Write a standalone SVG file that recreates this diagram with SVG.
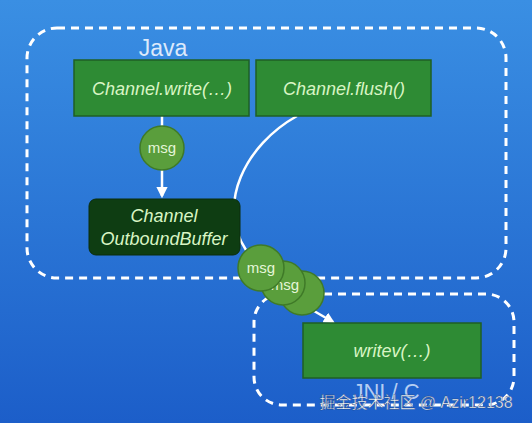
<svg xmlns="http://www.w3.org/2000/svg" width="532" height="423" viewBox="0 0 532 423">
<defs>
<linearGradient id="bg" x1="0" y1="0" x2="0" y2="1">
<stop offset="0" stop-color="#3a8fe3"/>
<stop offset="1" stop-color="#1c5ec9"/>
</linearGradient>
<marker id="ah" viewBox="0 0 10 10" refX="8" refY="5" markerWidth="4.5" markerHeight="4.5" orient="auto">
<path d="M0,0 L10,5 L0,10 Z" fill="#ffffff"/>
</marker>
<style>
.region{fill:none;stroke:#ffffff;stroke-width:3;stroke-dasharray:8,6}
.box{fill:#2e8b34;stroke:#1f5f25;stroke-width:1.5}
.dark{fill:#0e3d12;stroke:#0a2c0d;stroke-width:1}
.lbl{font-family:"Liberation Sans",Arial,sans-serif;font-style:italic;font-size:18px;fill:#d9f5c4;text-anchor:middle}
.msg{fill:#5a9e3c;stroke:#3f7a28;stroke-width:1.5}
.msgt{font-family:"Liberation Sans",Arial,sans-serif;font-size:15px;fill:#e4f6d8;text-anchor:middle}
.conn{fill:none;stroke:#ffffff;stroke-width:2.5}
</style>
</defs>
<rect width="532" height="423" fill="url(#bg)"/>
<g id="java-region">
<rect class="region" x="27" y="28" width="479" height="250" rx="30"/>
<text x="163" y="56" font-family="Liberation Sans,Arial,sans-serif" font-size="23" fill="#dce9fb" text-anchor="middle">Java</text>
</g>
<g id="jni-region">
<rect class="region" x="254" y="294" width="260" height="111" rx="28"/>
<text x="386" y="399" font-family="Liberation Sans,Arial,sans-serif" font-size="22" fill="#b5cdf2" text-anchor="middle">JNI / C</text>
</g>
<g id="connectors">
<line class="conn" x1="162" y1="116" x2="162" y2="127"/>
<line class="conn" x1="162" y1="170" x2="162" y2="196" marker-end="url(#ah)"/>
<path class="conn" d="M297,116 C245,145 216,205 246,250"/>
<line class="conn" x1="314" y1="311" x2="333" y2="322" marker-end="url(#ah)"/>
</g>
<g id="write">
<rect class="box" x="74" y="60" width="175" height="56"/>
<text class="lbl" x="162" y="95">Channel.write(…)</text>
</g>
<g id="flush">
<rect class="box" x="256" y="60" width="175" height="56"/>
<text class="lbl" x="344" y="95">Channel.flush()</text>
</g>
<g id="msg1">
<circle class="msg" cx="162" cy="148" r="22"/>
<text class="msgt" x="162" y="153">msg</text>
</g>
<g id="buffer">
<rect class="dark" x="89" y="199" width="151" height="56" rx="7"/>
<text class="lbl" x="164" y="222">Channel</text>
<text class="lbl" x="164" y="245">OutboundBuffer</text>
</g>
<g id="msg-stack">
<circle class="msg" cx="302" cy="293" r="22"/>
<circle class="msg" cx="283" cy="283" r="22"/>
<text class="msgt" x="285" y="290">msg</text>
<circle class="msg" cx="261" cy="268" r="23"/>
<text class="msgt" x="261" y="273">msg</text>
</g>
<g id="writev">
<rect class="box" x="303" y="323" width="178" height="55"/>
<text class="lbl" x="392" y="357">writev(…)</text>
</g>
<text x="416" y="408" font-family="Liberation Sans,'Noto Sans CJK SC',sans-serif" font-size="16" fill="#ffffff" text-anchor="middle" stroke="#1a3f80" stroke-width="0.4">掘金技术社区 @ Azir12138</text>
</svg>
